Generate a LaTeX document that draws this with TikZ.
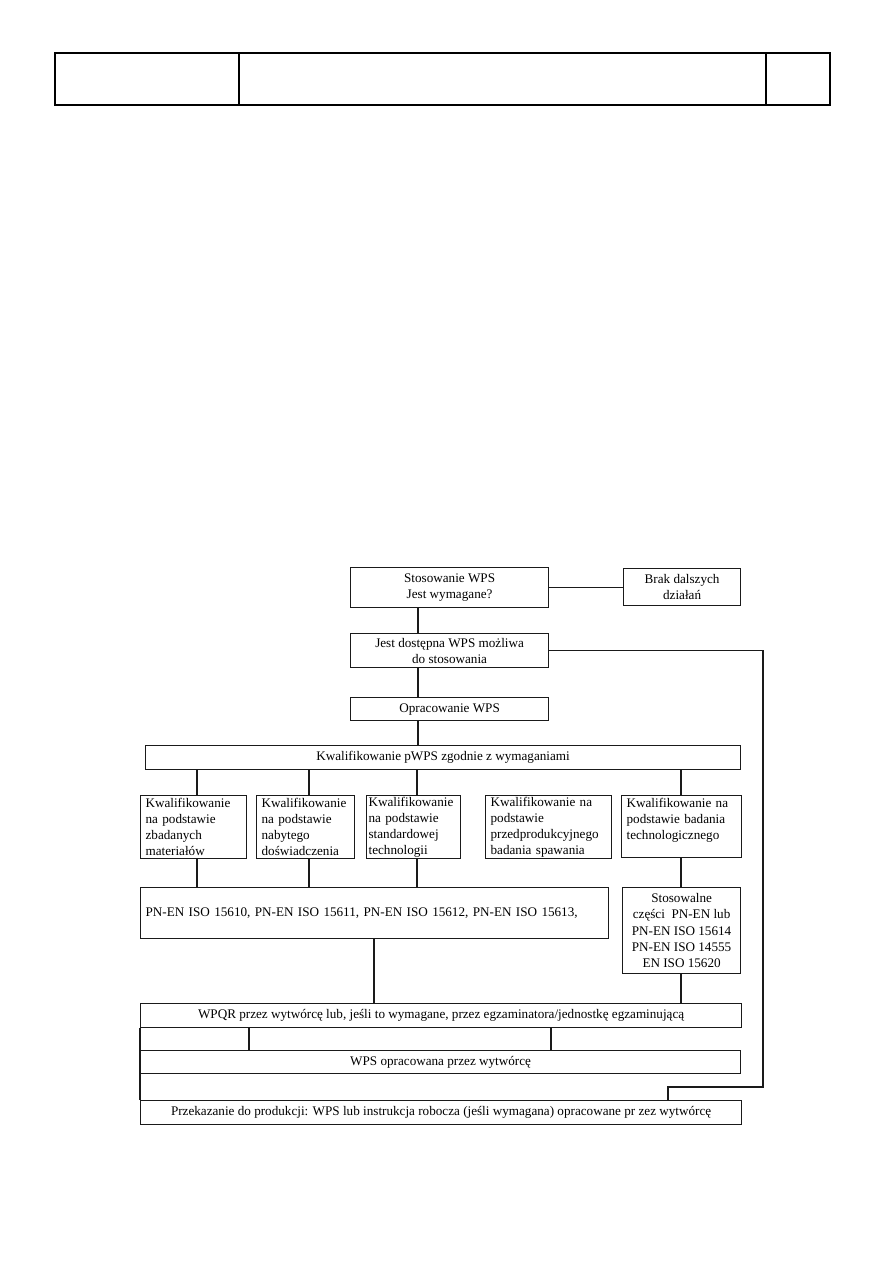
\documentclass[tikz,border=0pt]{standalone}
\usepackage{fontspec}
\setmainfont{Liberation Serif}
\usetikzlibrary{calc}

\begin{document}
\begin{tikzpicture}[x=0.02352cm, y=-0.02352cm, font=\fontsize{8.8}{10.8}\selectfont]
    % Define pixel unit
    \def\px{0.02352cm}

    \definecolor{borderColour}{HTML}{1A1A1A}

    \tikzset{
        box/.style args={#1/#2}{draw=borderColour, line width=0.8pt, anchor=north west,
            inner sep=0pt, minimum width=#1*\px, minimum height=#2*\px, align=center},
        lbox/.style args={#1/#2}{box=#1/#2, align=left, inner xsep=5*\px},
        link/.style={draw=borderColour, line width=0.7pt}
    }

    % Page size
    \useasboundingbox (0,0) rectangle (893,1263);

    % Draw header table
    \draw[line width=1pt] (55,53) rectangle (830,105);
    \draw[line width=1pt] (239,53) -- (239,105);
    \draw[line width=1pt] (766,53) -- (766,105);

    % Helper coordinates for the vertical links
    \coordinate (xMain) at (418,0);
    \coordinate (xQa) at (197,0);
    \coordinate (xQb) at (309,0);
    \coordinate (xQc) at (417,0);
    \coordinate (xQe) at (681,0);
    \coordinate (xPn) at (374,0);
    \coordinate (xWa) at (249,0);
    \coordinate (xWb) at (551,0);
    \coordinate (loopX) at (763,0);
    \coordinate (drop) at (668,1087);

    % Top of the chart
    \node[box=198/40] (stos) at (350,567) {Stosowanie WPS\\Jest wymagane?};
    \node[box=117/37] (brak) at (623,568) {Brak dalszych\\działań};
    \node[box=198/34] (jest) at (350,633) {Jest dostępna WPS możliwa\\do stosowania};
    \node[box=198/23] (oprac) at (350,697) {Opracowanie WPS};
    \node[box=595/24] (kwal) at (145,745) {Kwalifikowanie pWPS zgodnie z wymaganiami};

    % Qualification routes
    \node[lbox=106/63, text width=2.26cm] (qa) at (140,795) {Kwalifikowanie\\na podstawie\\zbadanych\\materiałów};
    \node[lbox=98/63, text width=2.07cm] (qb) at (256,795) {Kwalifikowanie\\na podstawie\\nabytego\\doświadczenia};
    \node[lbox=94/63, text width=2.12cm, inner xsep=2*\px] (qc) at (366,795) {Kwalifikowanie\\na podstawie\\standardowej\\technologii};
    \node[lbox=126/63, text width=2.73cm] (qd) at (485,795) {Kwalifikowanie na\\podstawie\\przedprodukcyjnego\\badania spawania};
    \node[lbox=120/62, text width=2.59cm] (qe) at (621,795) {Kwalifikowanie na\\podstawie badania\\technologicznego\\\mbox{}};

    % Standards
    \node[lbox=468/51, text width=10.77cm] (pnen) at (140,887) {PN-EN ISO 15610,\ PN-EN ISO 15611,\ PN-EN ISO 15612, PN-EN ISO 15613,};
    \node[box=118/86] (stosow) at (622,887) {Stosowalne\\części\ \ PN-EN lub\\PN-EN ISO 15614\\PN-EN ISO 14555\\EN ISO 15620};

    % Bottom of the chart
    \node[box=601/24] (wpqr) at (140,1003) {WPQR przez wytwórcę lub, jeśli to wymagane, przez egzaminatora/jednostkę egzaminującą};
    \node[box=600/23] (wpsop) at (140,1050) {WPS opracowana przez wytwórcę};
    \node[box=601/24] (prod) at (140,1100) {Przekazanie do produkcji: WPS lub instrukcja robocza (jeśli wymagana) opracowane pr zez wytwórcę};

    % Draw links
    \draw[link] (stos.east) -- (stos.east -| brak.west);
    \draw[link] (stos.south -| xMain) -- (jest.north -| xMain);
    \draw[link] (jest.south -| xMain) -- (oprac.north -| xMain);
    \draw[link] (oprac.south -| xMain) -- (kwal.north -| xMain);
    \draw[link] (kwal.south -| xQa) -- (qa.north -| xQa);
    \draw[link] (kwal.south -| xQb) -- (qb.north -| xQb);
    \draw[link] (kwal.south -| xQc) -- (qc.north -| xQc);
    \draw[link] (kwal.south -| xQe) -- (qe.north -| xQe);
    \draw[link] (qa.south -| xQa) -- (pnen.north -| xQa);
    \draw[link] (qb.south -| xQb) -- (pnen.north -| xQb);
    \draw[link] (qc.south -| xQc) -- (pnen.north -| xQc);
    \draw[link] (qe.south -| xQe) -- (stosow.north -| xQe);
    \draw[link] (pnen.south -| xPn) -- (wpqr.north -| xPn);
    \draw[link] (stosow.south -| xQe) -- (wpqr.north -| xQe);
    \draw[link] (wpqr.south -| xWa) -- (wpsop.north -| xWa);
    \draw[link] (wpqr.south -| xWb) -- (wpsop.north -| xWb);
    \draw[link] (wpqr.south west) -- (prod.north west);
    \draw[link] (jest.east) -- (jest.east -| loopX) -- (loopX |- drop) -- (drop) -- (drop |- prod.north);

\end{tikzpicture}
\end{document}
